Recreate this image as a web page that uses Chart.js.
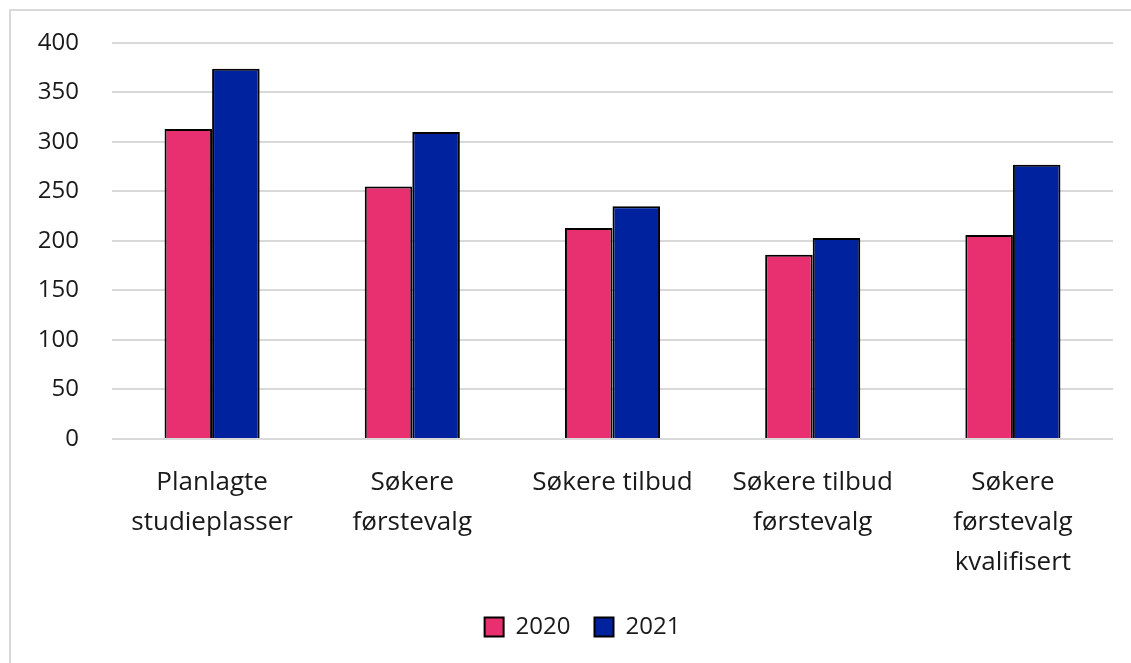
<!DOCTYPE html>
<html>
<head>
<meta charset="utf-8">
<script src="https://cdn.jsdelivr.net/npm/chart.js@4"></script>
<style>
	html, body { margin: 0; padding: 0; background: #fff; overflow: hidden; }
	#frame {
		position: absolute; left: 9px; top: 9px; width: 1200px; height: 700px;
		border: 2px solid #d9d9d9; box-sizing: border-box;
	}
	#wrap { position: absolute; left: 0; top: 0; width: 1131px; height: 663px; }
</style>
</head>
<body>
<div id="frame"></div>
<div id="wrap"><canvas id="chart"></canvas></div>
<script>
const categories = [
	["Planlagte", "studieplasser"],
	["Søkere", "førstevalg"],
	"Søkere tilbud",
	["Søkere tilbud", "førstevalg"],
	["Søkere", "førstevalg", "kvalifisert"]
];
const values2020 = [313, 255, 213, 186, 206];
const values2021 = [374, 310, 235, 203, 277];
const yTicks = [0, 50, 100, 150, 200, 250, 300, 350, 400];

const font = "'Open Sans', sans-serif";
const ctx = document.getElementById("chart");

// legend in the original sits centred on the (wider) frame, not the plot
const shiftLegend = {
	id: "shiftLegend",
	afterLayout: function(chart) {
		chart.legend.left += 26;
		chart.legend.right += 26;
		chart.legend.adjustHitBoxes();
	}
};

new Chart(ctx, {
	type: "bar",
	data: {
		labels: categories,
		datasets: [
			{
				label: "2020",
				data: values2020,
				backgroundColor: "#e83070",
				borderColor: "#000",
				borderWidth: 2
			},
			{
				label: "2021",
				data: values2021,
				backgroundColor: "#00229e",
				borderColor: "#000",
				borderWidth: 2
			}
		]
	},
	plugins: [shiftLegend],
	options: {
		responsive: true,
		maintainAspectRatio: false,
		animation: false,
		datasets: {
			bar: { categoryPercentage: 0.475, barPercentage: 1 }
		},
		layout: {
			padding: { top: 43, right: 18, bottom: 14, left: 0 }
		},
		scales: {
			x: {
				afterFit: function(scale) { scale.height -= 16; },
				grid: { display: false, drawTicks: false },
				border: { display: false },
				ticks: {
					color: "#1a1a1a",
					padding: 24,
					maxRotation: 0,
					font: { family: font, size: 26, lineHeight: 1.54 }
				}
			},
			y: {
				min: 0,
				max: 400,
				afterFit: function(scale) {
					scale.width = 112;
					scale.paddingTop = 14;
					scale.paddingBottom = 14;
				},
				afterBuildTicks: function(scale) {
					scale.ticks = yTicks.map(v => ({ value: v }));
				},
				grid: { color: "#d9d9d9", lineWidth: 2, drawTicks: false },
				border: { display: false },
				ticks: {
					color: "#1a1a1a",
					padding: 33,
					font: { family: font, size: 24 }
				}
			}
		},
		plugins: {
			legend: {
				position: "bottom",
				labels: {
					color: "#1a1a1a",
					boxWidth: 19,
					boxHeight: 19,
					padding: 24,
					font: { family: font, size: 24 }
				}
			},
			tooltip: { enabled: false }
		}
	}
});
</script>
</body>
</html>
